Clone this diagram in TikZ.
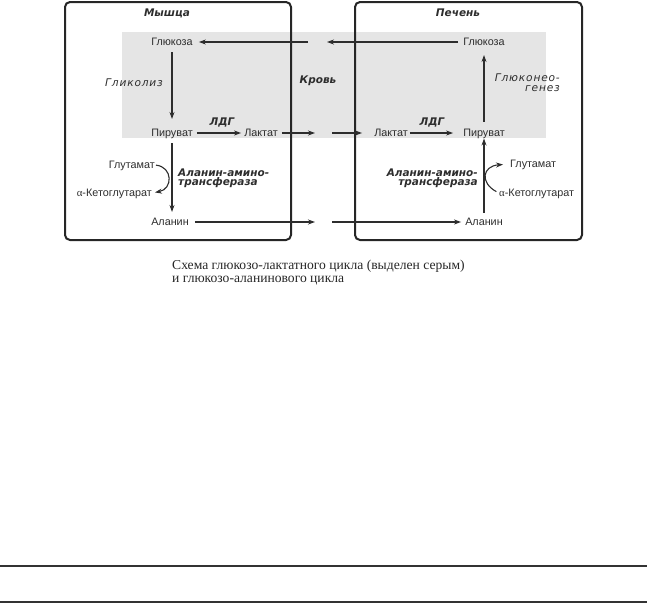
\documentclass[tikz,border=0pt]{standalone}
\usepackage{fontspec}
\setmainfont{Liberation Serif}
\newfontfamily\lsans{Liberation Sans}
\newfontfamily\dvs{DejaVu Sans}[ItalicFont={DejaVu Sans Oblique},BoldFont={DejaVu Sans Bold},BoldItalicFont={DejaVu Sans Bold Oblique}]
\newfontfamily\dvsi{DejaVu Sans Oblique}[LetterSpace=8]
\usetikzlibrary{arrows.meta}
\definecolor{band}{RGB}{229,229,229}
\definecolor{ink}{RGB}{45,45,45}
\begin{document}
\begin{tikzpicture}[x=1pt,y=-1pt,
  met/.style={font=\lsans\fontsize{10.8}{12}\selectfont, text=ink, inner sep=0pt, text height=7.7pt, text depth=0pt},
  lbl/.style={font=\dvsi\fontsize{10.6}{11}\selectfont, inner sep=0pt, text=ink},
  blbl/.style={font=\dvs\bfseries\itshape\fontsize{10.5}{9.5}\selectfont, inner sep=0pt, text=ink},
  arr/.style={draw=ink, line width=1.1pt, -{Stealth[length=7pt,width=5pt]}},
  organ/.style={draw=black!85, line width=2pt, rounded corners=5pt},
  rule/.style={draw=black!80, line width=2pt},
  captxt/.style={anchor=base west, inner sep=0pt, font=\fontsize{13.6}{13}\selectfont, text=black!85}]
\useasboundingbox (0,0) rectangle (647,603);
% blood band
\fill[band] (122,32) rectangle (546,138);
% organs
\draw[organ] (65,2) rectangle (291,240);
\draw[organ] (355,2) rectangle (582,240);
\node[blbl] (tm) at (167,13) {Мышца};
\node[blbl] (tl) at (458,13) {Печень};
\node[blbl] (blood) at (318,81) {Кровь};
% muscle metabolites
\node[met] (mG) at (172,42) {Глюкоза};
\node[met] (mP) at (172,133) {Пируват};
\node[met] (mL) at (261,133) {Лактат};
\node[met] (mA) at (170,222) {Аланин};
\node[met, anchor=east] (mGlu) at (155,165) {Глутамат};
\node[met, anchor=east] (mKG) at (152,193) {{\rmfamily α}-Кетоглутарат};
% liver metabolites
\node[met] (lG) at (484,42) {Глюкоза};
\node[met] (lP) at (484,133) {Пируват};
\node[met] (lL) at (391,133) {Лактат};
\node[met] (lA) at (484,222) {Аланин};
\node[met, anchor=west] (lGlu) at (510,164) {Глутамат};
\node[met, anchor=west] (lKG) at (499,193) {{\rmfamily α}-Кетоглутарат};
% enzyme / process labels
\node[lbl] (glyc) at (134,83) {Гликолиз};
\node[blbl] (ldh1) at (222,122) {ЛДГ};
\node[blbl] (ldh2) at (432,122) {ЛДГ};
\node[lbl, align=right, anchor=east] (gng) at (560,82.5) {Глюконео-\\[-1pt]генез};
\node[blbl, align=left, anchor=west] (alt1) at (178,178.5) {Аланин-амино-\\трансфераза};
\node[blbl, align=right, anchor=east] (alt2) at (478,178.5) {Аланин-амино-\\трансфераза};
% free ends in the blood
\coordinate (cg1) at (327,42);
\coordinate (cg2) at (308,42);
\coordinate (cl1) at (315,133);
\coordinate (cl2) at (332,133);
\coordinate (ca1) at (315,222);
\coordinate (ca2) at (332,222);
% arrows
\draw[arr, shorten <=5pt] (lG.west) -- (cg1);
\draw[arr, shorten >=6pt] (cg2) -- (mG.east);
\draw[arr, shorten <=6pt, shorten >=10pt] (mG.south) -- (mP.north);
\draw[arr, shorten <=4pt, shorten >=3pt] (mP.east) -- (mL.west);
\draw[arr, shorten <=4pt] (mL.east) -- (cl1);
\draw[arr, shorten >=12pt] (cl2) -- (lL.west);
\draw[arr, shorten <=2pt, shorten >=10pt] (lL.east) -- (lP.west);
\draw[arr, shorten <=7pt, shorten >=9pt] (lP.north) -- (lG.south);
\draw[arr, shorten <=6pt, shorten >=6pt] (mP.south -| mG.south) -- (mA.north -| mG.south);
\draw[arr, shorten <=6pt] (mA.east) -- (ca1);
\draw[arr, shorten >=4pt] (ca2) -- (lA.west);
\draw[arr, shorten <=5pt, shorten >=1.5pt] (lA.north) -- (lP.south);
\draw[arr, shorten <=1pt, shorten >=3pt] (mGlu.east) .. controls (173,167) and (173,189) .. (mKG.east);
\draw[arr, shorten <=3pt, shorten >=7pt] (lKG.west) .. controls (480,183) and (482,166) .. (lGlu.west);
% caption
\node[captxt] (cap1) at (172,269) {Схема глюкозо-лактатного цикла (выделен серым)};
\node[captxt] (cap2) at (172,282) {и глюкозо-аланинового цикла};
% page rules
\draw[rule] (0,565.5) -- (647,565.5);
\draw[rule] (0,601.5) -- (647,601.5);
\end{tikzpicture}
\end{document}
